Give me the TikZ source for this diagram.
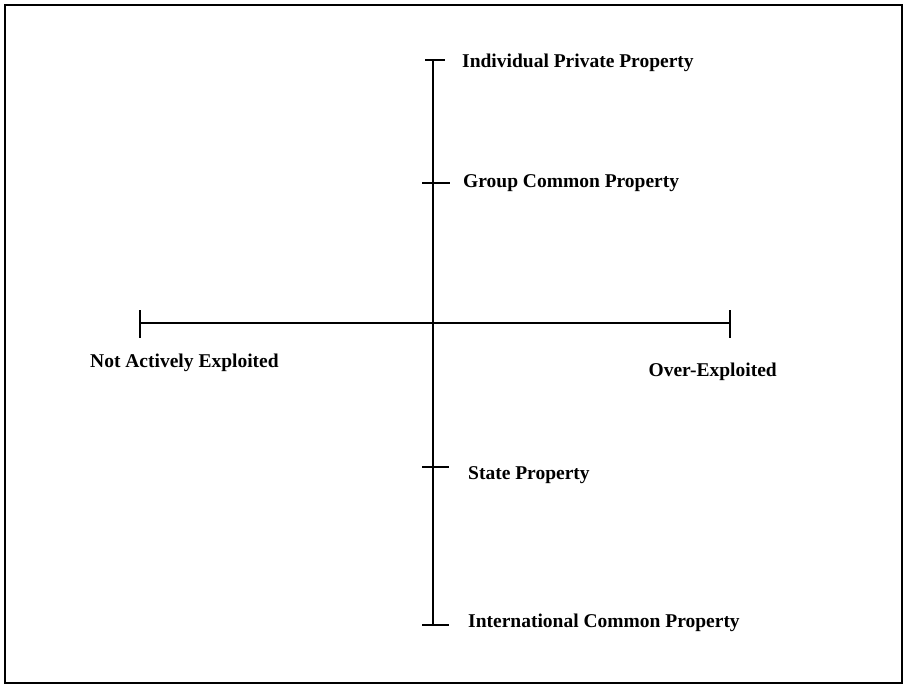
\documentclass[tikz,border=0pt]{standalone}
\usepackage{fontspec}
\setmainfont{Liberation Serif}
\usepackage{tikz}

\begin{document}
\begin{tikzpicture}[x=1pt,y=1pt,
  axis/.style={line width=2.2pt},
  tick/.style={line width=2pt},
  lbl/.style={font=\fontsize{19.5}{22}\selectfont\bfseries, inner sep=0pt}]
  \useasboundingbox (0,0) rectangle (904,685);
  % Outer frame
  \draw[line width=1.6pt] (5,2) rectangle (902,680);

  % Ownership axis (vertical)
  \coordinate (top) at (433,625);
  \coordinate (group) at (433,502);
  \coordinate (state) at (433,218);
  \coordinate (bottom) at (433,60);
  \draw[axis] (top) -- (bottom);
  \draw[tick] ([xshift=-8pt]top) -- ([xshift=12pt]top);
  \draw[tick] ([xshift=-11pt]group) -- ([xshift=17pt]group);
  \draw[tick] ([xshift=-11pt]state) -- ([xshift=16pt]state);
  \draw[tick] ([xshift=-11pt]bottom) -- ([xshift=16pt]bottom);
  \node[lbl, anchor=west] (ipp) at (462,622) {Individual Private Property};
  \node[lbl, anchor=west] (gcp) at (463,502) {Group Common Property};
  \node[lbl, anchor=west] (sp) at (468,210) {State Property};
  \node[lbl, anchor=west] (icp) at (468,62) {International Common Property};

  % Exploitation axis (horizontal)
  \coordinate (left) at (140,362);
  \coordinate (right) at (730,362);
  \draw[axis] (left) -- (right);
  \draw[tick] ([yshift=-15pt]left) -- ([yshift=13pt]left);
  \draw[tick] ([yshift=-15pt]right) -- ([yshift=13pt]right);
  \node[lbl, anchor=west] (nae) at (90,322) {Not Actively Exploited};
  \node[lbl, anchor=east] (oe) at (777,313) {Over-Exploited};
\end{tikzpicture}
\end{document}
